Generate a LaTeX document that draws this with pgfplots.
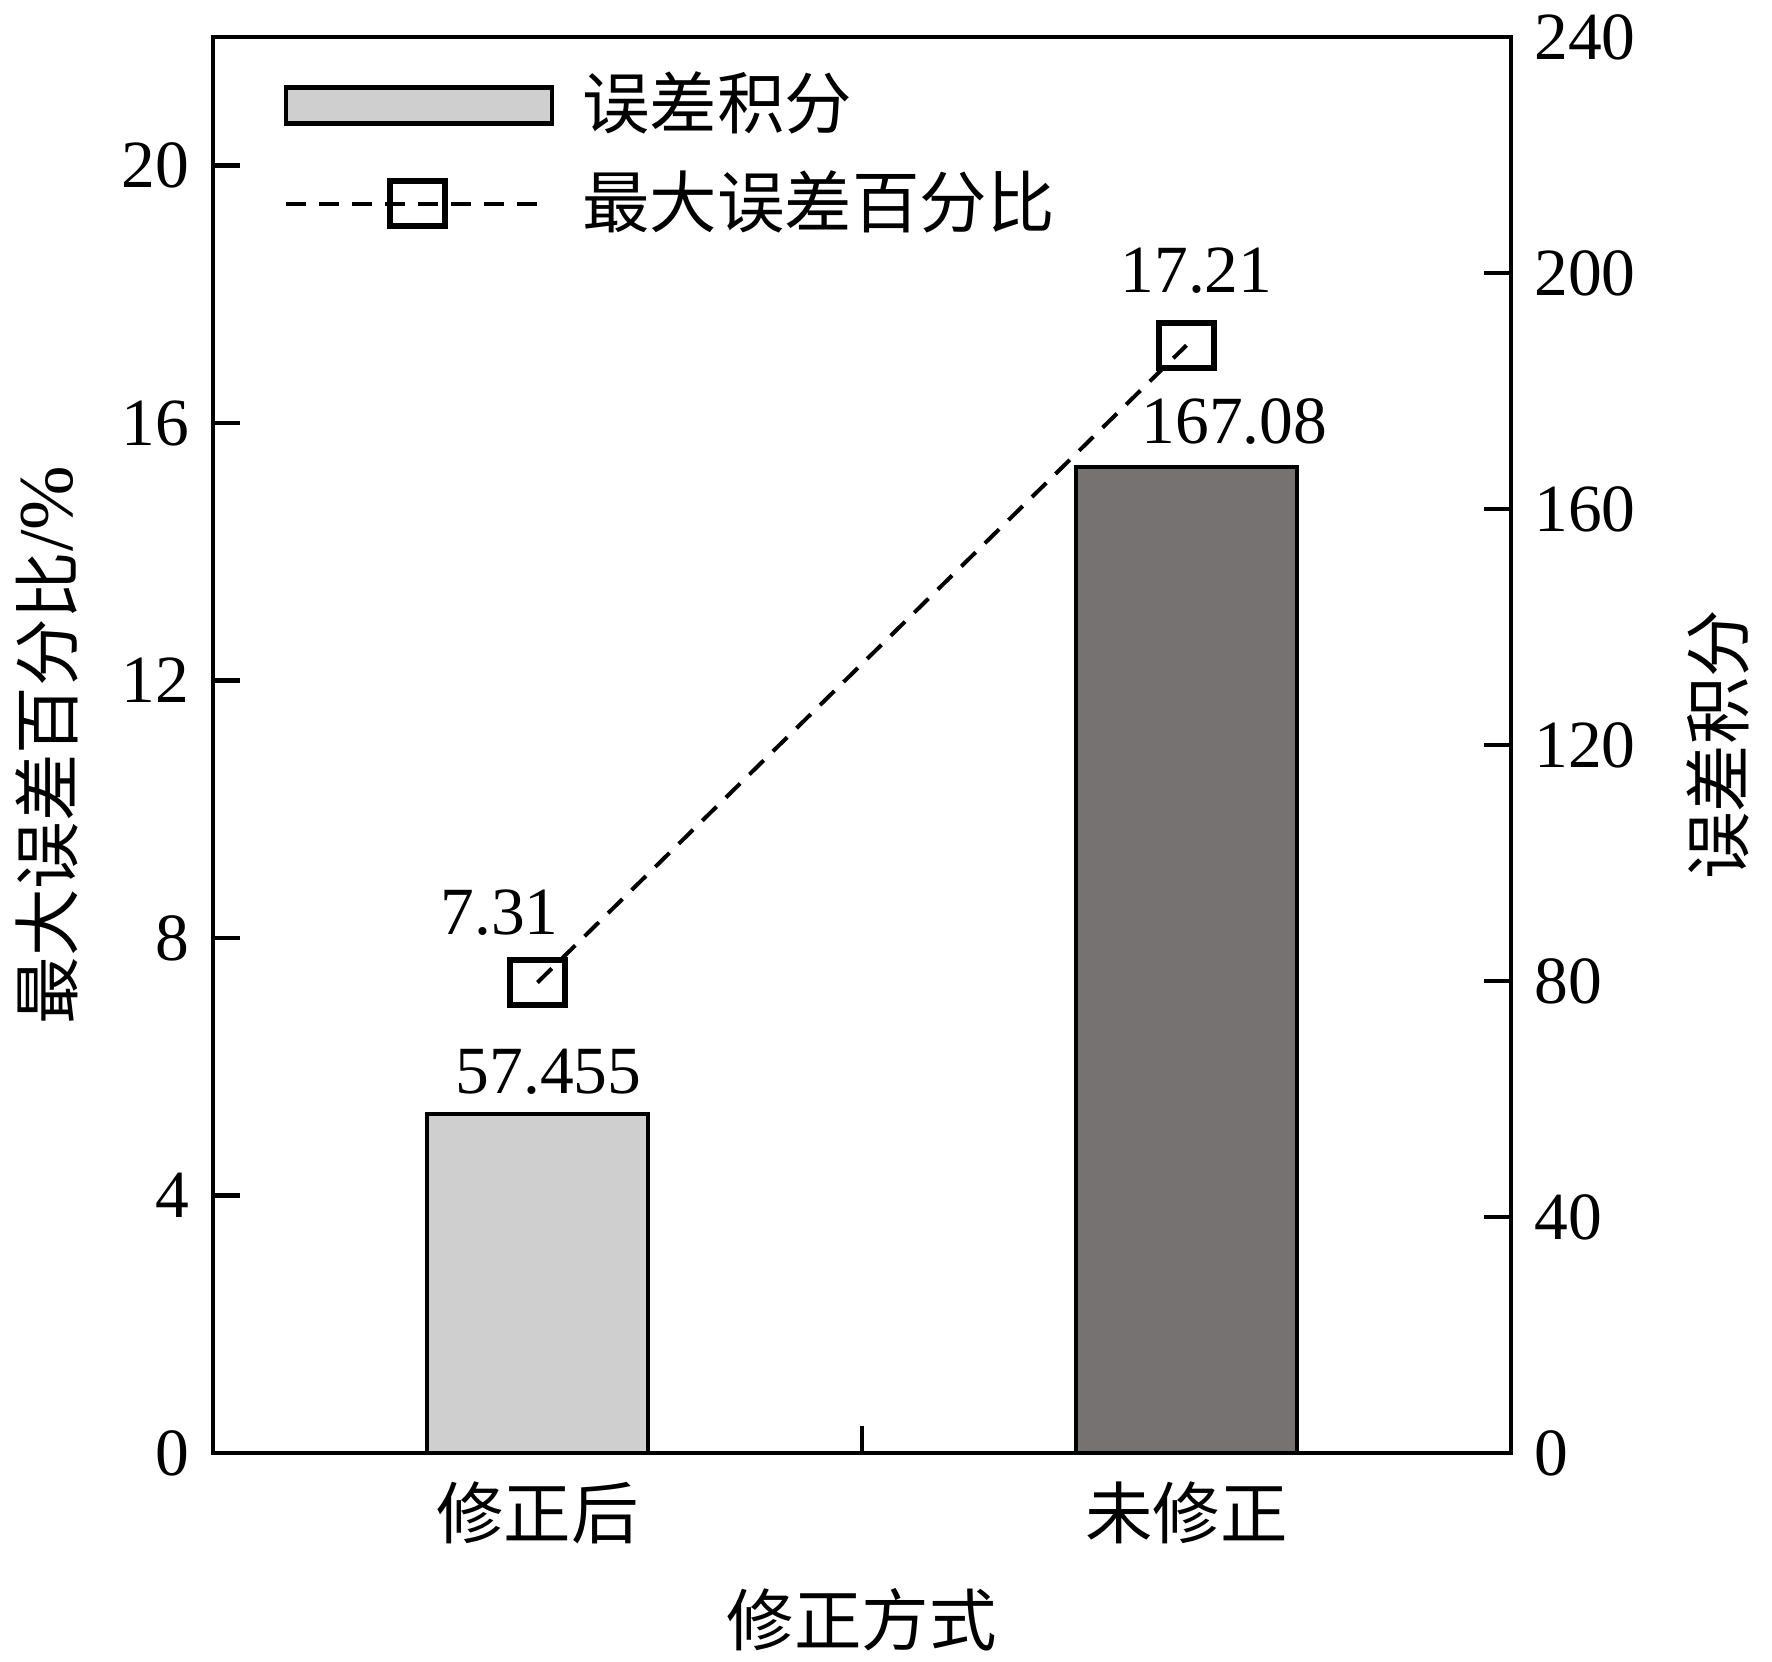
\documentclass[border=0pt]{standalone}
\usepackage{fontspec}
\setmainfont{Liberation Serif}
\newfontfamily\cjk{Noto Sans CJK SC}
\usepackage{pgfplots}
\pgfplotsset{compat=1.18}
\definecolor{barA}{RGB}{208,207,208}
\definecolor{barB}{RGB}{118,114,113}
\pgfdeclareplotmark{rectmark}{%
  \pgfpathrectangle{\pgfpoint{-5.5pt}{-4.5pt}}{\pgfpoint{11pt}{9pt}}%
  \pgfusepathqstroke}
\pgfplotsset{
  common/.style={
    scale only axis, width=259.6pt, height=283.2pt,
    xmin=-0.5, xmax=1.5,
    major tick length=5.4pt,
    tick style={line width=0.9pt, black},
    axis line style={line width=0.9pt},
    /pgf/number format/assume math mode=true,
    yticklabel style={font=\fontsize{13.5}{16}\selectfont},
  },
  mylineleg/.style={legend image code/.code={%
    \draw[##1, mark=none] (0pt,0pt) -- (50.8pt,0pt);
    \draw[##1] plot coordinates {(26.4pt,0pt)};}},
  mybarleg/.style={legend image code/.code={%
    \draw[fill=barA, draw=black, line width=0.9pt] (0pt,-3.6pt) rectangle (53.2pt,3.6pt);}},
}
\begin{document}
\fontsize{13.5}{16}\selectfont
\begin{tikzpicture}
\path[use as bounding box] (-42.6pt,-41.8pt) rectangle (311.8pt,290.6pt);
% bars on right axis
\begin{axis}[common,
  ymin=0, ymax=240, ytick={0,40,...,240},
  ytick pos=right, yticklabel pos=right,
  xtick={0,0.5,1}, xticklabels={{\cjk 修正后},{},{\cjk 未修正}},
  xtick pos=bottom,
  xticklabel style={anchor=center, yshift=-12pt, font=\fontsize{13.5}{16}\selectfont},
  xlabel={\cjk 修正方式},
  every axis x label/.style={at={(axis description cs:0.5,-0.1179)}, anchor=center, font=\fontsize{13.5}{16}\selectfont},
  ylabel={\cjk 误差积分},
  every axis y label/.style={at={(axis description cs:1.1595,0.5)}, rotate=90, anchor=center, font=\fontsize{13.5}{16}\selectfont},
]
\addplot[ybar, bar shift=0pt, bar width=0.34, fill=barA, draw=black, line width=0.9pt]
  coordinates {(0,57.455)};
\addplot[ybar, bar shift=0pt, bar width=0.34, fill=barB, draw=black, line width=0.9pt]
  coordinates {(1,167.08)};
\node[anchor=center, xshift=2.2pt, yshift=8.4pt] at (axis cs:0,57.455) {57.455};
\node[anchor=center, xshift=9.6pt, yshift=9.2pt] at (axis cs:1,167.08) {167.08};
\end{axis}
% line on left axis
\begin{axis}[common,
  ymin=0, ymax=22, ytick={0,4,...,20},
  ytick pos=left, yticklabel pos=left,
  hide x axis,
  ylabel={{\cjk 最大误差百分比}{\fontsize{15.5}{18}\selectfont/\%}},
  every axis y label/.style={at={(axis description cs:-0.1279,0.5)}, rotate=90, anchor=center, font=\fontsize{13.5}{16}\selectfont},
  legend cell align=left,
  legend style={at={(axis description cs:0.0545,0.9753)}, anchor=north west,
    draw=none, fill=none, inner sep=0pt, outer sep=0pt,
    nodes={inner sep=0pt, font=\cjk\fontsize{13.5}{16}\selectfont},
    column sep=5.6pt, row sep=6.3pt},
]
\addlegendimage{mybarleg}
\addlegendentry{误差积分}
\addplot[black, line width=0.8pt, dash pattern=on 4pt off 2.6pt,
  mark=rectmark, mark options={solid, line width=1.2pt}, mylineleg]
  coordinates {(0,7.31) (1,17.21)};
\addlegendentry{最大误差百分比}
\node[anchor=center, xshift=-7.6pt, yshift=14pt] at (axis cs:0,7.31) {7.31};
\node[anchor=center, xshift=2pt, yshift=15pt] at (axis cs:1,17.21) {17.21};
\end{axis}
\end{tikzpicture}
\end{document}
